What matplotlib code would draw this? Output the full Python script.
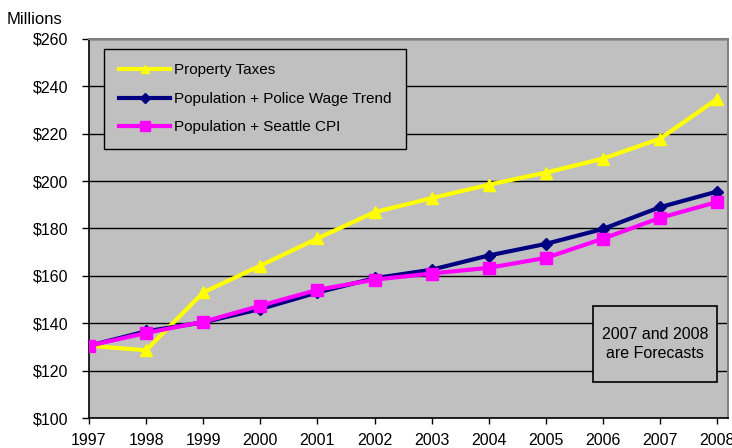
import matplotlib.pyplot as plt
from matplotlib.patches import Rectangle

plt.rcParams['font.family'] = ['Liberation Sans', 'DejaVu Sans']

years = [1997, 1998, 1999, 2000, 2001, 2002, 2003, 2004, 2005, 2006, 2007, 2008]
property_taxes = [130.5, 128.6, 153.0, 164.3, 175.8, 186.9, 192.8, 198.5, 203.6, 209.5, 217.9, 234.7]
police_wage = [130.5, 136.6, 140.4, 146.0, 153.0, 159.0, 162.6, 168.6, 173.5, 179.8, 189.0, 195.6]
seattle_cpi = [130.5, 135.9, 140.6, 147.4, 154.1, 158.4, 161.0, 163.4, 167.6, 175.7, 184.5, 191.2]
y_ticks = [100, 120, 140, 160, 180, 200, 220, 240, 260]

fig = plt.figure(figsize=(7.32, 4.48), dpi=100)
ax = fig.add_axes([89 / 732, 1 - 418 / 448, 639 / 732, 379 / 448])
ax.set_facecolor('#C0C0C0')

ax.plot(years, property_taxes, '-^', color='#FFFF00', linewidth=3, markersize=8,
        label='Property Taxes', zorder=3)
ax.plot(years, police_wage, '-D', color='#000080', linewidth=3, markersize=6,
        label='Population + Police Wage Trend', zorder=4)
ax.plot(years, seattle_cpi, '-s', color='#FF00FF', linewidth=3, markersize=9,
        label='Population + Seattle CPI', zorder=5)

ax.set_xlim(1997, 2008.19)
ax.set_ylim(100, 260)
ax.set_xticks(years)
ax.set_xticklabels([str(y) for y in years])
ax.set_yticks(y_ticks)
ax.set_yticklabels(['$%d' % v for v in y_ticks])
ax.tick_params(axis='y', direction='out', length=5, width=1, pad=10, labelsize=11.5)
ax.tick_params(axis='x', direction='out', length=4, width=1, pad=7, labelsize=11.5)
ax.yaxis.grid(True, color='black', linewidth=1)
ax.set_axisbelow(True)

for side in ['left', 'bottom']:
    ax.spines[side].set_color('black')
    ax.spines[side].set_linewidth(1.2)
for side in ['top', 'right']:
    ax.spines[side].set_color('#808080')
    ax.spines[side].set_linewidth(1.5)

leg = ax.legend(loc='upper left', bbox_to_anchor=(0.0235, 0.974), fontsize=11,
                handlelength=3.4, handletextpad=0.2, labelspacing=0.95,
                borderpad=0.95, borderaxespad=0, fancybox=False, framealpha=1,
                edgecolor='black', facecolor='#C0C0C0', markerscale=0.8)
leg.get_frame().set_linewidth(1)

ax.add_patch(Rectangle((0.789, 0.095), 0.194, 0.2005, transform=ax.transAxes,
                       facecolor='#C0C0C0', edgecolor='black', linewidth=1.2, zorder=6))
ax.text(0.886, 0.1955, '2007 and 2008\nare Forecasts', transform=ax.transAxes,
        ha='center', va='center', fontsize=11.5, linespacing=1.4, zorder=7)

fig.text(7 / 732, 1 - 19 / 448, 'Millions', fontsize=12, ha='left', va='center')

plt.savefig('out.png', dpi=100)
